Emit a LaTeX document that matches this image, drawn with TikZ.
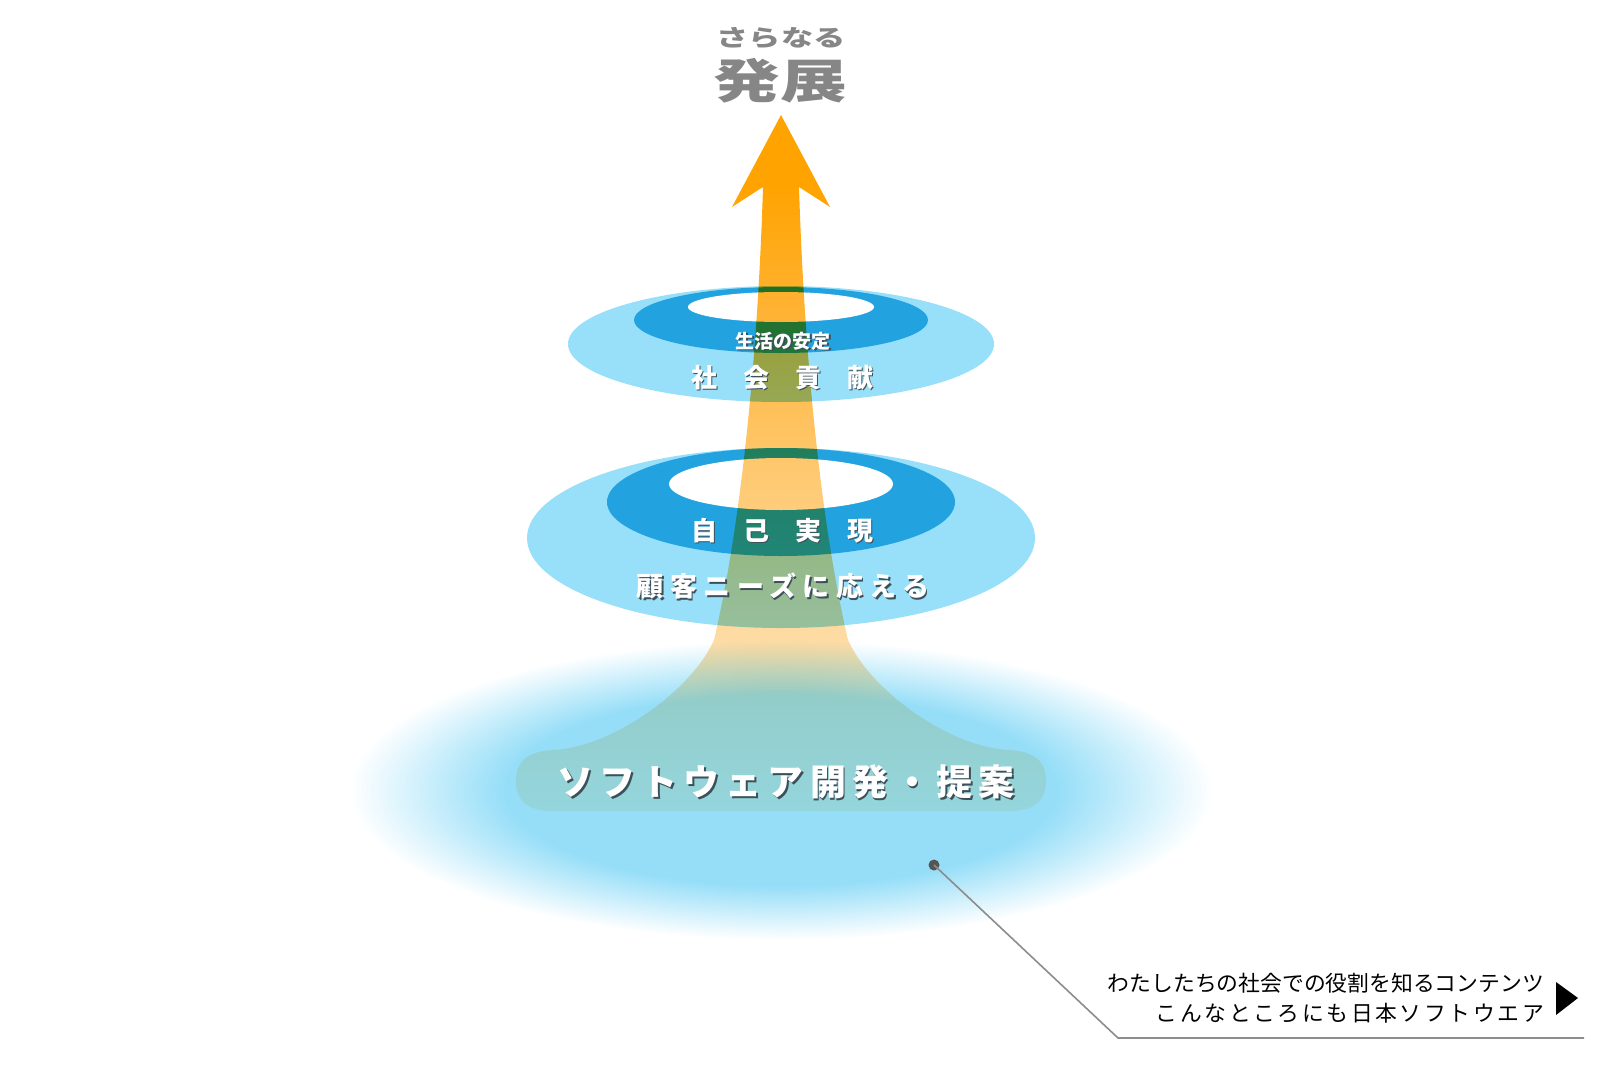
\documentclass[tikz,border=0pt]{standalone}
\usepackage{fontspec}
\usepackage{tikz}
\newfontfamily\jp{Noto Sans CJK JP}

\definecolor{ringlight}{RGB}{152,224,250}
\definecolor{ringdark}{RGB}{34,163,224}
\definecolor{glowc}{RGB}{150,222,248}
\definecolor{titlegray}{RGB}{134,134,134}
\definecolor{shadowc}{RGB}{60,80,90}
\definecolor{dotc}{RGB}{85,85,85}
\definecolor{leadc}{RGB}{140,140,140}
\definecolor{arrtip}{RGB}{255,163,0}
\definecolor{arrhigh}{RGB}{255,176,45}
\definecolor{arrmid}{RGB}{254,198,105}
\definecolor{arrlow}{RGB}{253,220,165}
\definecolor{arrfoot}{RGB}{251,236,208}
\definecolor{arrbase}{RGB}{253,246,228}

% soft glow under the arrow
\pgfdeclareradialshading{glowshade}{\pgfpoint{0bp}{0bp}}{color(0bp)=(glowc); color(16bp)=(glowc); color(25bp)=(white); color(50bp)=(white)}
% arrow colour from the foot (25bp) to the tip (75bp)
\pgfdeclareverticalshading{arrowshade}{100bp}{color(0bp)=(arrbase); color(25bp)=(arrbase); color(33bp)=(arrfoot); color(37bp)=(arrlow); color(51bp)=(arrmid); color(62bp)=(arrhigh); color(70bp)=(arrtip); color(100bp)=(arrtip)}

\newcommand\shtx[1]{\makebox[0pt][l]{\hspace{1.6pt}\raisebox{-1.6pt}{\textcolor{shadowc}{#1}}}#1}

\tikzset{
  ttl/.style={text=titlegray, inner sep=0pt},
  ringtxt/.style={text=white, inner sep=0pt, font=\jp\bfseries\fontsize{26}{30}\selectfont},
  linktxt/.style={anchor=east, inner sep=0pt, text=black}
}

\begin{document}
\begin{tikzpicture}[x=1pt,y=1pt,yscale=-1,xscale=1]
\useasboundingbox (0,0) rectangle (1600,1070);

%glow
\shade[shading=glowshade] (781,790) ellipse (432 and 150);

%upper ring
\fill[ringlight] (781,344) ellipse (213 and 58);
\fill[ringdark] (781,320) ellipse (147 and 33);
\fill[white] (781,307) ellipse (93 and 15);

%middle ring
\fill[ringlight] (781,538) ellipse (254 and 90);
\fill[ringdark] (781,502) ellipse (174 and 54);
\fill[white] (781,484) ellipse (112 and 26);

%arrow
\begin{scope}[blend mode=multiply]
\shade[shading=arrowshade] (781,115) -- (830,207) -- (799,187)
  .. controls (804,350) and (820,520) .. (848,640)
  .. controls (870,690) and (950,748) .. (1010,750)
  .. controls (1040,752) and (1046,766) .. (1046,781)
  .. controls (1046,800) and (1035,811) .. (1010,811)
  -- (552,811)
  .. controls (527,811) and (516,800) .. (516,781)
  .. controls (516,766) and (522,752) .. (552,750)
  .. controls (612,748) and (692,690) .. (714,640)
  .. controls (742,520) and (758,350) .. (763,187)
  -- (732,207) -- cycle;
\end{scope}

%titles
\node[ttl, font=\jp\bfseries\fontsize{23}{26}\selectfont] (sara) at (781,38) {\scalebox{1.4}[1]{さらなる}};
\node[ttl, font=\jp\bfseries\fontsize{47}{50}\selectfont] (hatten) at (780,81) {\scalebox{1.42}[1]{発展}};

%ring labels
\node[ringtxt, font=\jp\bfseries\fontsize{19}{22}\selectfont] (seikatsu) at (783,342) {\shtx{生活の安定}};
\node[ringtxt] (shakai) at (782,378) {\shtx{社　会　貢　献}};
\node[ringtxt] (jiko) at (782,531) {\shtx{自　己　実　現}};
\node[ringtxt, font=\jp\bfseries\fontsize{27}{30}\selectfont\addfontfeature{LetterSpace=24}] (kokyaku) at (783,587) {\shtx{顧客ニーズに応える}};
\node[ringtxt, font=\jp\bfseries\fontsize{36}{40}\selectfont\addfontfeature{LetterSpace=17}] (soft) at (786,783) {\shtx{ソフトウェア開発・提案}};

%link
\node[circle, fill=dotc, inner sep=0pt, minimum size=11pt] (dot) at (934,865) {};
\coordinate (bend) at (1118,1038);
\coordinate (lineend) at (1584,1038);
\draw[leadc, line width=1.6pt] (dot.center) -- (bend) -- (lineend);

\node[linktxt, font=\jp\fontsize{21.8}{24}\selectfont] (link1) at (1544,983) {わたしたちの社会での役割を知るコンテンツ};
\node[linktxt, font=\jp\fontsize{21.8}{24}\selectfont\addfontfeature{LetterSpace=12}] (link2) at (1544,1013) {こんなところにも日本ソフトウエア};
\fill (1556,982) -- (1578,998) -- (1556,1015) -- cycle;
\end{tikzpicture}
\end{document}
